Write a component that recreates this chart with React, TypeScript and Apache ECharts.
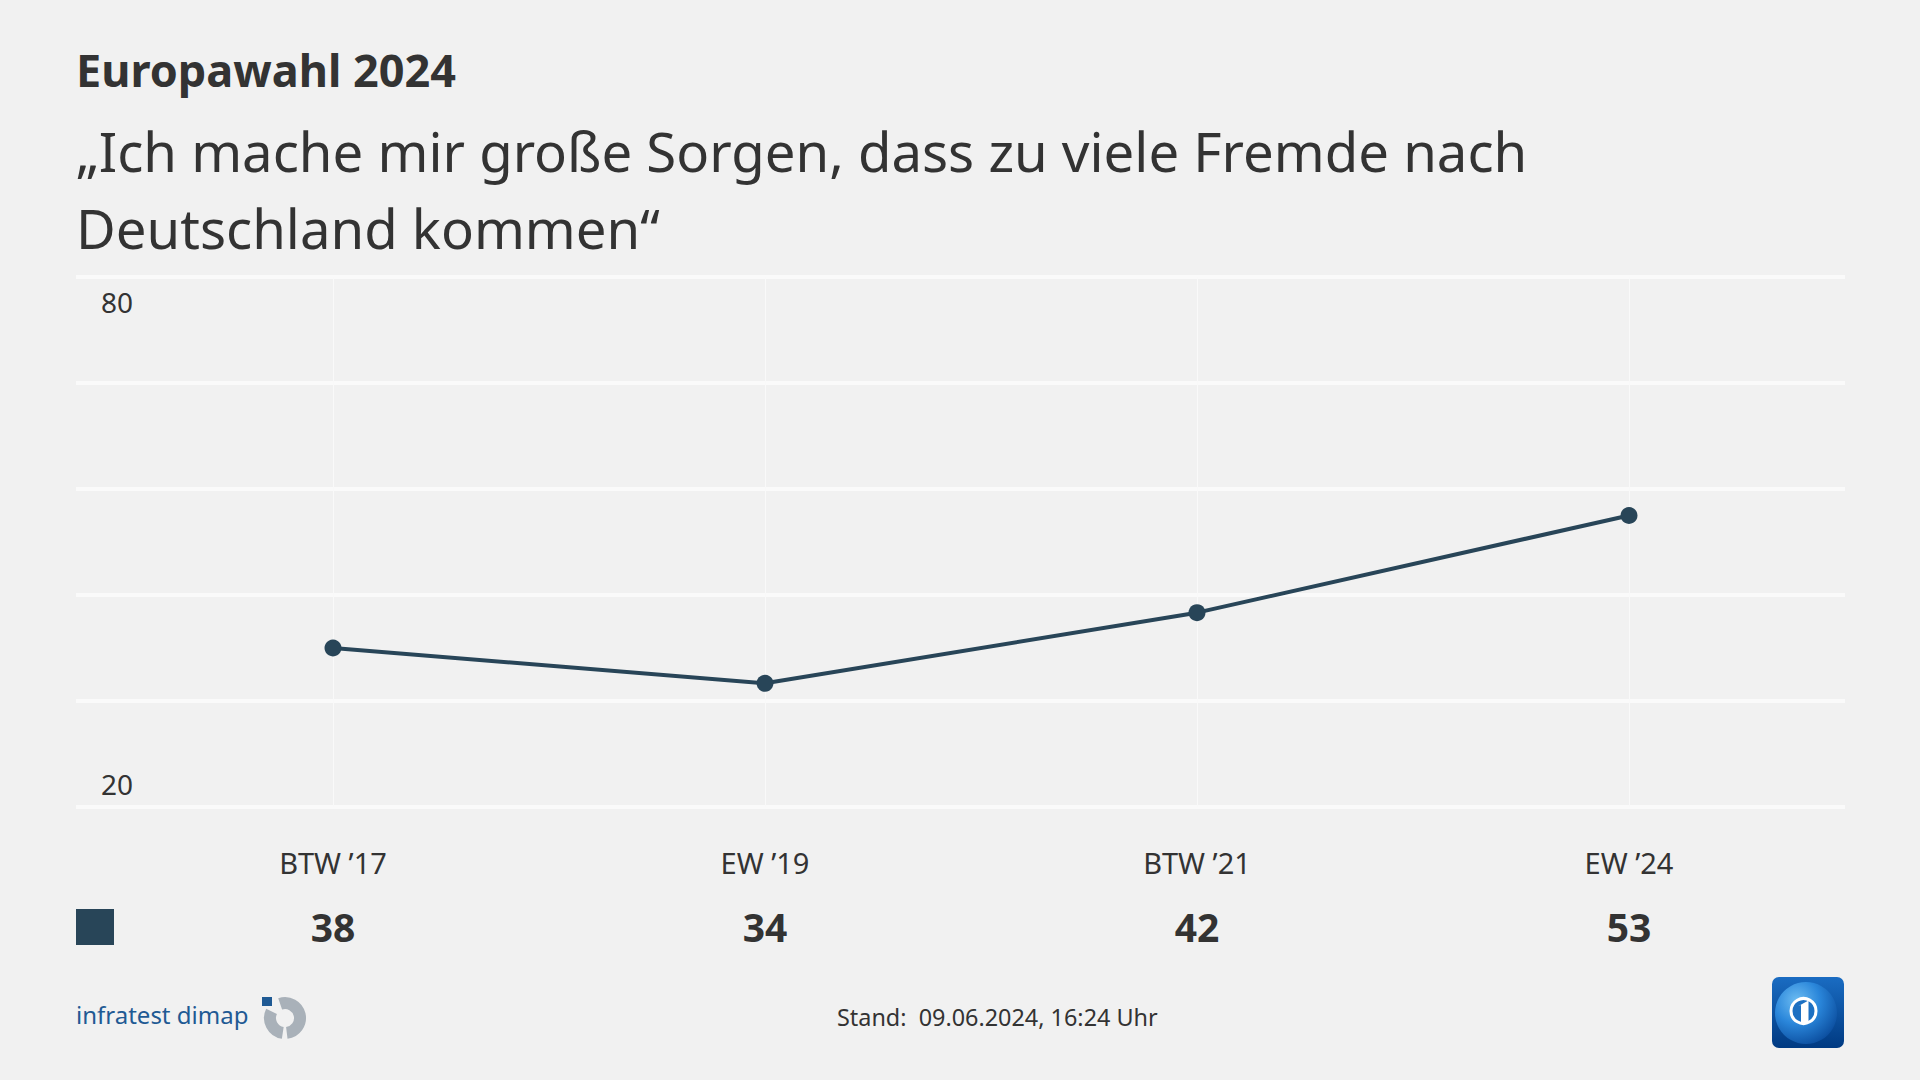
import React, { useEffect, useRef } from 'react';
import * as echarts from 'echarts';

const categories = ['BTW ’17', 'EW ’19', 'BTW ’21', 'EW ’24'];
const values = [38, 34, 42, 53];
const yTicks = [20, 32, 44, 56, 68, 80];
const yLabels = [20, 80];
const seriesName = 'Zustimmung';
const titleText = 'Europawahl 2024';
const subtitleText = '„Ich mache mir große Sorgen, dass zu viele Fremde nach\nDeutschland kommen“';
const footerText = 'Stand:  09.06.2024, 16:24 Uhr';
const logoText = 'infratest dimap';

const FONT = '"Noto Sans", "Open Sans", sans-serif';
const TEXT = '#333333';
const LINE = '#284558';
const GRAY = '#a9b1b9';

export default function App() {
  const ref = useRef<HTMLDivElement>(null);
  useEffect(() => {
    const chart = echarts.init(ref.current!, null, { renderer: 'svg' });
    const option: any = {
      animation: false,
      backgroundColor: '#f1f1f1',
      textStyle: { fontFamily: FONT },
      title: [
        {
          text: titleText, left: 76, top: 47, padding: 0,
          textStyle: { fontFamily: FONT, fontSize: 45, fontWeight: 'bold', color: TEXT, lineHeight: 45 },
        },
        {
          text: subtitleText, left: 76, top: 112, padding: 0,
          textStyle: { fontFamily: FONT, fontSize: 54.5, fontWeight: 'normal', color: TEXT, lineHeight: 77 },
        },
      ],
      legend: {
        left: 76, top: 909, padding: 0, itemGap: 0, itemWidth: 38, itemHeight: 36,
        icon: 'rect', selectedMode: false, data: [seriesName], formatter: () => '',
        textStyle: { fontSize: 1 },
      },
      grid: [
        { left: 76, right: 75, top: 277, bottom: 273 },
        { left: 333, right: 291, top: 277, bottom: 273 },
      ],
      xAxis: [
        { gridIndex: 0, type: 'value', show: false, min: 0, max: 1 },
        {
          gridIndex: 1, type: 'category', data: categories, boundaryGap: false,
          axisLine: { show: false }, axisTick: { show: false },
          splitLine: { show: true, lineStyle: { color: '#f9f9f9', width: 1 } },
          axisLabel: { interval: 0, margin: 41, fontSize: 29, color: TEXT, fontFamily: FONT },
        },
        {
          gridIndex: 1, type: 'category', data: categories, boundaryGap: false, position: 'bottom', offset: 92,
          axisLine: { show: false }, axisTick: { show: false }, splitLine: { show: false },
          axisLabel: {
            interval: 0, margin: 8, fontSize: 39, fontWeight: 'bold', color: TEXT, fontFamily: FONT,
            formatter: (_v: string, i: number) => String(values[i]),
          },
        },
      ],
      yAxis: [
        {
          gridIndex: 0, type: 'value', min: 20, max: 80,
          axisLine: { show: false },
          axisTick: { show: false, customValues: yTicks },
          splitLine: { show: true, lineStyle: { color: '#fafafa', width: 4 } },
          axisLabel: {
            inside: true, margin: 25, customValues: yLabels, color: TEXT, fontSize: 28, fontFamily: FONT,
            formatter: (v: number) => (v === 80 ? '{p1| }\n{n|80}' : '{n|' + v + '}\n{p2| }'),
            rich: {
              n: { fontSize: 28, lineHeight: 32, color: TEXT, fontFamily: FONT },
              p1: { fontSize: 10, lineHeight: 49 },
              p2: { fontSize: 10, lineHeight: 46 },
            },
          },
        },
        { gridIndex: 1, type: 'value', min: 20, max: 80, show: false, splitLine: { show: false } },
      ],
      series: [
        {
          name: seriesName, type: 'line', xAxisIndex: 1, yAxisIndex: 1, data: values,
          symbol: 'circle', symbolSize: 17, z: 5,
          lineStyle: { color: LINE, width: 4 }, itemStyle: { color: LINE },
        },
      ],
      graphic: [
        {
          type: 'text', x: 837, y: 1017,
          style: { text: footerText, fontSize: 23.4, fill: TEXT, fontFamily: FONT, verticalAlign: 'middle' },
        },
        {
          type: 'text', x: 76, y: 1014,
          style: { text: logoText, fontSize: 24, fill: '#1f5a94', fontFamily: FONT, verticalAlign: 'middle' },
        },
        { type: 'rect', shape: { x: 262, y: 997, width: 10, height: 9 }, style: { fill: '#1f5a94' } },
        {
          type: 'arc', shape: { cx: 285, cy: 1018, r: 15, startAngle: -1.9, endAngle: 1.45, clockwise: true },
          style: { stroke: GRAY, lineWidth: 12, fill: 'none' },
        },
        {
          type: 'arc', shape: { cx: 285, cy: 1018, r: 15, startAngle: 1.72, endAngle: 3.6, clockwise: true },
          style: { stroke: GRAY, lineWidth: 12, fill: 'none' },
        },
        {
          type: 'rect', shape: { x: 1772, y: 977, width: 72, height: 71, r: 7 },
          style: {
            fill: new echarts.graphic.LinearGradient(0, 0, 0, 1, [
              { offset: 0, color: '#1a6cc2' },
              { offset: 1, color: '#003a82' },
            ]),
          },
        },
        {
          type: 'circle', shape: { cx: 1806, cy: 1013, r: 31 },
          style: {
            fill: new echarts.graphic.RadialGradient(0.35, 0.3, 0.75, [
              { offset: 0, color: '#6cbcf2' },
              { offset: 0.5, color: '#2a86da' },
              { offset: 1, color: '#0c4fa0' },
            ]),
          },
        },
        {
          type: 'circle', shape: { cx: 1803.5, cy: 1011, r: 12.5 },
          style: { fill: '#1d70c2', stroke: '#ffffff', lineWidth: 3 },
        },
        {
          type: 'polygon',
          shape: { points: [[1798.5, 1006], [1808.5, 1000.5], [1808.5, 1022], [1801, 1022], [1801, 1005]] },
          style: { fill: '#ffffff' },
        },
      ],
    };
    chart.setOption(option);
    return () => chart.dispose();
  }, []);
  return <div ref={ref} style={{ position: 'fixed', left: 0, top: 0, width: 1920, height: 1080 }} />;
}
